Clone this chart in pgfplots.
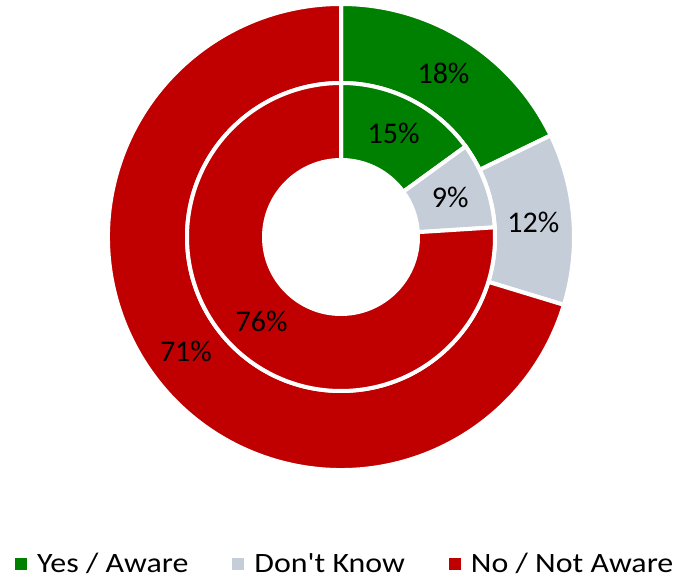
\documentclass[border=0pt]{standalone}
\usepackage{pgfplots}
\pgfplotsset{compat=1.18}
\usepackage{pgfplotstable}
\usepackage{fontspec}
\setmainfont{Carlito}
\newfontfamily\legendfont[FakeStretch=1.14]{Carlito}
\definecolor{cYes}{RGB}{0,128,0}
\definecolor{cDK}{RGB}{197,205,216}
\definecolor{cNo}{RGB}{192,0,0}

\pgfplotstableread{
cat outer inner
Yes 18 15
DK  12 9
No  71 76
}\donutdata

% sector: color, inner radius, outer radius, start angle, end angle
\newcommand{\sector}[5]{%
  \filldraw[fill=#1, draw=white, line width=4bp, line join=miter]
    ([shift={(#4:#3bp)}]axis cs:341,343) arc[start angle=#4, end angle=#5, radius=#3bp]
    -- ([shift={(#5:#2bp)}]axis cs:341,343) arc[start angle=#5, end angle=#4, radius=#2bp]
    -- cycle;}
\newcommand{\seclabel}[3]{% angle, radius, text
  \node[font=\fontsize{30bp}{36bp}\selectfont, inner sep=0pt] at ([shift={(#1:#2bp)}]axis cs:341,343) {#3};}

\begin{document}
\begin{tikzpicture}
\pgfplotstablegetelem{0}{outer}\of\donutdata \let\oA\pgfplotsretval
\pgfplotstablegetelem{1}{outer}\of\donutdata \let\oB\pgfplotsretval
\pgfplotstablegetelem{2}{outer}\of\donutdata \let\oC\pgfplotsretval
\pgfplotstablegetelem{0}{inner}\of\donutdata \let\iA\pgfplotsretval
\pgfplotstablegetelem{1}{inner}\of\donutdata \let\iB\pgfplotsretval
\pgfplotstablegetelem{2}{inner}\of\donutdata \let\iC\pgfplotsretval
\pgfmathsetmacro{\oT}{\oA+\oB+\oC}
\pgfmathsetmacro{\oaE}{90-360*\oA/\oT}
\pgfmathsetmacro{\obE}{\oaE-360*\oB/\oT}
\pgfmathsetmacro{\iT}{\iA+\iB+\iC}
\pgfmathsetmacro{\iaE}{90-360*\iA/\iT}
\pgfmathsetmacro{\ibE}{\iaE-360*\iB/\iT}
\pgfmathsetmacro{\oaM}{(90+\oaE)/2}
\pgfmathsetmacro{\obM}{(\oaE+\obE)/2}
\pgfmathsetmacro{\ocM}{(\obE-270)/2}
\pgfmathsetmacro{\iaM}{(90+\iaE)/2}
\pgfmathsetmacro{\ibM}{(\iaE+\ibE)/2}
\pgfmathsetmacro{\icM}{(\ibE-270)/2}
\begin{axis}[
  scale only axis, width=680bp, height=580bp,
  xmin=0, xmax=680, ymin=0, ymax=580,
  hide axis, clip=false,
  legend columns=3,
  legend style={at={(axis cs:15,16)}, anchor=west, draw=none, fill=none,
    inner sep=0pt, nodes={inner sep=0pt},
    font=\legendfont\fontsize{28bp}{32bp}\selectfont,
    /tikz/every even column/.append style={column sep=44bp},
    /tikz/every odd column/.append style={column sep=10bp}},
  legend image code/.code={\fill[#1] (0bp,-6bp) rectangle (12bp,6bp);},
]
\path (axis cs:0,0) rectangle (axis cs:680,580);
\addlegendimage{fill=cYes, draw=none}
\addlegendentry{Yes / Aware}
\addlegendimage{fill=cDK, draw=none}
\addlegendentry{Don't Know}
\addlegendimage{fill=cNo, draw=none}
\addlegendentry{No / Not Aware}

% outer ring
\sector{cYes}{154}{233}{90}{\oaE}
\sector{cDK}{154}{233}{\oaE}{\obE}
\sector{cNo}{154}{233}{\obE}{-270}
% inner ring
\sector{cYes}{77}{154}{90}{\iaE}
\sector{cDK}{77}{154}{\iaE}{\ibE}
\sector{cNo}{77}{154}{\ibE}{-270}

\seclabel{\oaM}{193}{18\%}
\seclabel{\obM}{193}{12\%}
\seclabel{\ocM}{193}{71\%}
\seclabel{\iaM}{116}{15\%}
\seclabel{\ibM}{116}{9\%}
\seclabel{\icM}{116}{76\%}
\end{axis}
\end{tikzpicture}
\end{document}
